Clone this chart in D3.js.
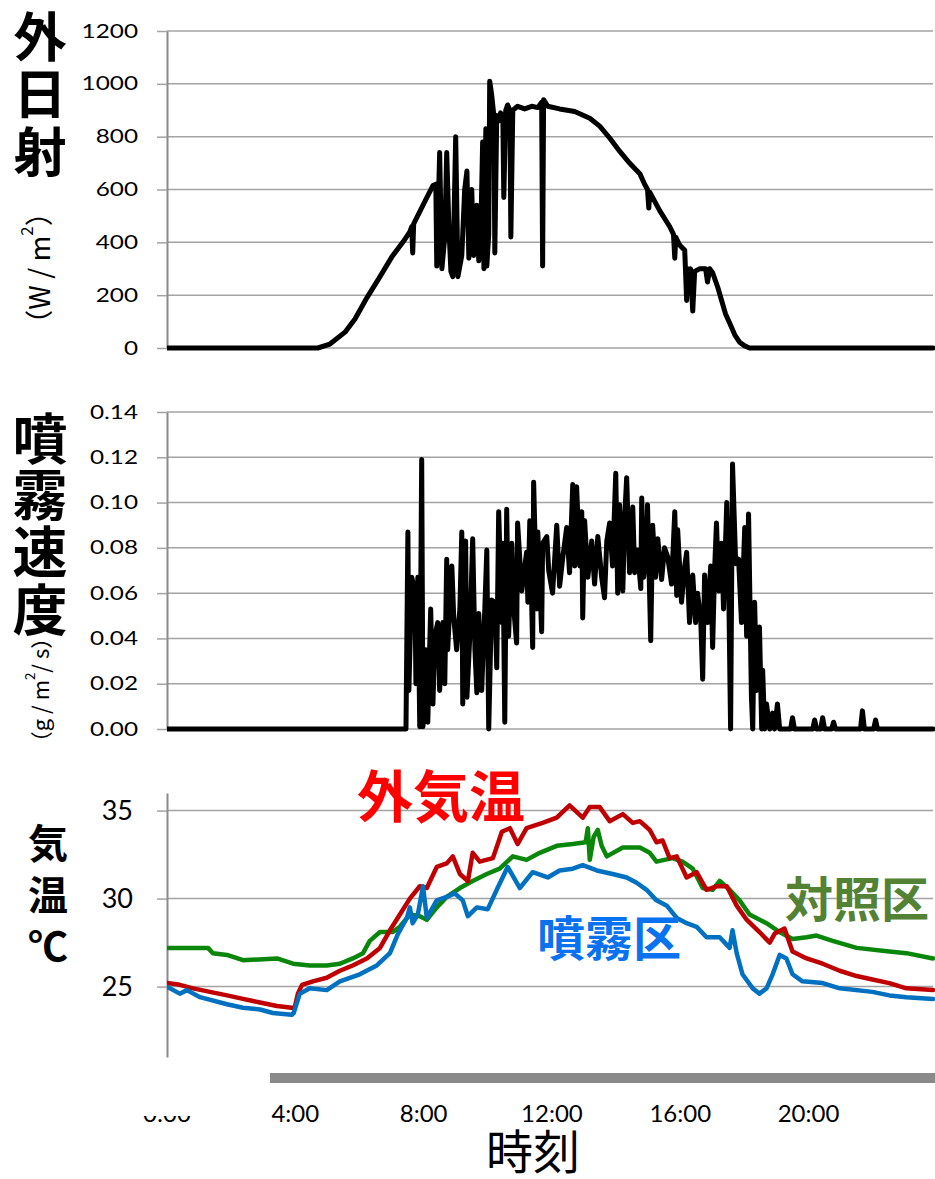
<!DOCTYPE html>
<html>
<head>
<meta charset="utf-8">
<script src="https://cdn.jsdelivr.net/npm/d3@7"></script>
<style>
  body { margin: 0; background: #fff; }
  svg { display: block; }
</style>
</head>
<body>
<div id="chart"></div>
<script>
// tick values
const hourTicks = [0, 4, 8, 12, 16, 20];
const solarTicks = [0, 200, 400, 600, 800, 1000, 1200];
const sprayTicks = [0, 0.02, 0.04, 0.06, 0.08, 0.10, 0.12, 0.14];
const tempTicks = [25, 30, 35];

// outside solar radiation, [hour, W/m2]
const solarData = [
  [0, 0], [4.70, 0], [5.08, 15], [5.55, 60], [5.86, 110], [6.23, 190], [6.64, 270], [7.01, 345],
  [7.35, 400], [7.57, 440], [7.63, 460], [7.66, 360], [7.69, 470], [8.04, 555], [8.29, 615],
  [8.38, 620], [8.41, 310], [8.50, 740], [8.57, 300], [8.66, 420], [8.72, 740], [8.79, 450],
  [8.85, 290], [8.91, 270], [9.00, 800], [9.07, 270], [9.19, 350], [9.28, 600], [9.35, 670],
  [9.41, 340], [9.50, 600], [9.56, 350], [9.66, 540], [9.72, 330], [9.78, 420], [9.84, 780],
  [9.88, 300], [9.94, 830], [9.97, 310], [10.03, 430], [10.06, 1010], [10.12, 960], [10.19, 880],
  [10.22, 360], [10.28, 880], [10.34, 860], [10.40, 890], [10.47, 870], [10.50, 570], [10.56, 900],
  [10.62, 920], [10.69, 900], [10.72, 420], [10.78, 900], [10.93, 915], [11.15, 905], [11.37, 915],
  [11.56, 910], [11.68, 930], [11.71, 310], [11.74, 940], [11.87, 915], [12.24, 905], [12.71, 895],
  [13.18, 870], [13.49, 840], [13.80, 795], [14.11, 745], [14.42, 700], [14.74, 660], [14.89, 620],
  [14.98, 600], [15.02, 530], [15.05, 590], [15.36, 520], [15.67, 460], [15.79, 430], [15.83, 340],
  [15.86, 420], [15.98, 390], [16.14, 370], [16.20, 180], [16.23, 300], [16.29, 240], [16.32, 300],
  [16.39, 140], [16.45, 290], [16.61, 300], [16.79, 300], [16.85, 250], [16.92, 300], [17.01, 285],
  [17.17, 230], [17.29, 180], [17.41, 130], [17.54, 95], [17.70, 50], [17.85, 22], [18.01, 8],
  [18.16, 0], [23.88, 0]
];

// spray rate, [hour, g/m2/s]
const sprayData = [
  [0, 0], [7.45, 0], [7.51, 0.087], [7.54, 0.017], [7.63, 0.067], [7.73, 0.061], [7.76, 0.020],
  [7.82, 0.067], [7.88, 0.001], [7.94, 0.119], [7.98, 0.001], [8.07, 0.035], [8.13, 0.003],
  [8.22, 0.053], [8.29, 0.011], [8.35, 0.041], [8.44, 0.047], [8.50, 0.017], [8.60, 0.047],
  [8.66, 0.020], [8.72, 0.075], [8.75, 0.035], [8.88, 0.072], [8.94, 0.049], [9.03, 0.035],
  [9.13, 0.053], [9.19, 0.087], [9.22, 0.011], [9.31, 0.083], [9.35, 0.014], [9.44, 0.041],
  [9.53, 0.084], [9.60, 0.035], [9.66, 0.016], [9.72, 0.051], [9.81, 0.017], [9.91, 0.054],
  [9.97, 0.079], [10.03, 0.000], [10.12, 0.057], [10.22, 0.056], [10.28, 0.027], [10.34, 0.096],
  [10.44, 0.047], [10.47, 0.082], [10.53, 0.003], [10.59, 0.097], [10.65, 0.041], [10.75, 0.082],
  [10.81, 0.053], [10.90, 0.038], [10.93, 0.091], [11.06, 0.061], [11.21, 0.078], [11.25, 0.056],
  [11.31, 0.092], [11.40, 0.036], [11.43, 0.109], [11.53, 0.053], [11.56, 0.087], [11.68, 0.043],
  [11.71, 0.082], [11.84, 0.085], [11.90, 0.070], [12.02, 0.060], [12.15, 0.090], [12.24, 0.063],
  [12.34, 0.076], [12.46, 0.089], [12.55, 0.069], [12.65, 0.108], [12.71, 0.072], [12.77, 0.107],
  [12.87, 0.072], [12.93, 0.096], [12.96, 0.049], [13.02, 0.092], [13.12, 0.067], [13.24, 0.083],
  [13.33, 0.064], [13.43, 0.085], [13.55, 0.067], [13.64, 0.058], [13.71, 0.083], [13.80, 0.091],
  [13.89, 0.072], [13.99, 0.113], [14.05, 0.060], [14.11, 0.099], [14.21, 0.061], [14.27, 0.094],
  [14.33, 0.111], [14.42, 0.069], [14.52, 0.098], [14.58, 0.069], [14.67, 0.079], [14.77, 0.062],
  [14.80, 0.102], [14.86, 0.067], [14.95, 0.079], [14.98, 0.099], [15.08, 0.039], [15.14, 0.090],
  [15.23, 0.067], [15.30, 0.084], [15.42, 0.066], [15.51, 0.080], [15.61, 0.076], [15.73, 0.064],
  [15.83, 0.096], [15.89, 0.059], [15.92, 0.088], [16.04, 0.056], [16.14, 0.072], [16.20, 0.078],
  [16.29, 0.047], [16.39, 0.068], [16.48, 0.047], [16.54, 0.060], [16.64, 0.048], [16.70, 0.022],
  [16.76, 0.068], [16.85, 0.047], [16.95, 0.072], [17.01, 0.036], [17.07, 0.070], [17.13, 0.091],
  [17.20, 0.061], [17.29, 0.082], [17.35, 0.053], [17.45, 0.100], [17.51, 0.064], [17.57, 0.000],
  [17.63, 0.117], [17.73, 0.073], [17.82, 0.075], [17.91, 0.047], [18.01, 0.089], [18.07, 0.041],
  [18.13, 0.095], [18.22, 0.014], [18.26, 0.000], [18.32, 0.056], [18.38, 0.017], [18.47, 0.045],
  [18.54, 0.000], [18.57, 0.026], [18.63, 0.000], [18.69, 0.011], [18.79, 0.000], [18.88, 0.007],
  [18.94, 0.000], [19.03, 0.011], [19.10, 0], [19.44, 0], [19.50, 0.005], [19.56, 0], [20.13, 0],
  [20.19, 0.004], [20.25, 0], [20.38, 0], [20.44, 0.005], [20.50, 0], [20.72, 0], [20.78, 0.003],
  [20.84, 0], [21.62, 0], [21.68, 0.008], [21.74, 0], [22.03, 0], [22.09, 0.004], [22.15, 0], [23.88, 0]
];

// air temperatures, [hour, degC]
const outsideTemp = [
  [0, 25.2], [0.40, 25.1], [0.81, 24.9], [1.34, 24.7], [1.87, 24.5], [2.37, 24.3], [2.90, 24.1],
  [3.43, 23.9], [3.89, 23.8], [3.98, 23.8], [4.08, 24.6], [4.21, 25.1], [4.55, 25.3], [4.98, 25.5],
  [5.39, 25.9], [5.79, 26.2], [6.23, 26.6], [6.64, 27.2], [6.95, 28.2], [7.26, 29.1], [7.57, 30.0],
  [7.88, 30.7], [8.10, 30.6], [8.41, 31.8], [8.72, 32.0], [8.91, 32.4], [9.13, 31.4], [9.38, 31.0],
  [9.53, 32.6], [9.75, 32.1], [10.16, 32.3], [10.44, 33.8], [10.69, 34.0], [10.93, 33.1], [11.21, 34.0],
  [11.71, 34.3], [12.15, 34.6], [12.55, 35.3], [12.96, 34.6], [13.18, 35.2], [13.49, 35.2], [13.80, 34.4],
  [14.21, 34.8], [14.52, 34.3], [14.74, 34.4], [15.05, 33.9], [15.26, 33.2], [15.45, 33.3], [15.67, 32.3],
  [15.89, 32.4], [16.20, 31.2], [16.51, 31.5], [16.82, 30.5], [17.13, 30.7], [17.45, 30.7], [17.76, 29.6],
  [18.07, 28.8], [18.47, 28.1], [18.79, 27.5], [18.94, 28.0], [19.25, 28.3], [19.50, 27.0], [19.94, 26.6],
  [20.44, 26.3], [20.97, 25.9], [21.50, 25.6], [21.99, 25.4], [22.52, 25.2], [23.05, 24.9], [23.88, 24.8]
];
const controlTemp = [
  [0, 27.2], [1.28, 27.2], [1.43, 26.9], [1.87, 26.8], [2.37, 26.5], [3.43, 26.6], [3.93, 26.3],
  [4.45, 26.2], [4.98, 26.2], [5.39, 26.3], [5.79, 26.6], [6.11, 26.9], [6.32, 27.6], [6.64, 28.1],
  [7.04, 28.1], [7.26, 28.4], [7.57, 29.1], [7.88, 29.0], [8.10, 28.8], [8.41, 29.5], [8.72, 30.1],
  [9.13, 30.6], [9.53, 31.0], [9.97, 31.4], [10.37, 31.7], [10.78, 32.4], [11.21, 32.2], [11.62, 32.6],
  [12.15, 33.0], [12.65, 33.1], [13.05, 33.2], [13.12, 34.0], [13.18, 32.2], [13.30, 33.5], [13.43, 33.9],
  [13.55, 33.0], [13.71, 32.4], [14.21, 32.9], [14.74, 32.9], [15.05, 32.6], [15.26, 32.1], [15.76, 32.3],
  [16.07, 32.1], [16.39, 31.7], [16.70, 30.6], [17.01, 30.5], [17.23, 31.0], [17.54, 30.5], [17.85, 29.9],
  [18.16, 29.1], [18.69, 28.6], [19.10, 28.1], [19.50, 27.7], [19.94, 27.8], [20.25, 27.9], [20.75, 27.6],
  [21.50, 27.2], [22.52, 27.0], [23.05, 26.9], [23.88, 26.6]
];
const mistTemp = [
  [0, 25.0], [0.40, 24.6], [0.62, 24.8], [1.03, 24.4], [1.87, 24.0], [2.37, 23.8], [2.90, 23.7],
  [3.30, 23.5], [3.89, 23.4], [3.95, 23.5], [4.14, 24.6], [4.45, 24.9], [4.98, 24.8], [5.39, 25.3],
  [6.01, 25.7], [6.54, 26.2], [6.95, 26.9], [7.20, 28.0], [7.48, 28.9], [7.57, 29.5], [7.66, 28.6],
  [7.82, 29.1], [7.98, 30.7], [8.10, 28.9], [8.41, 29.9], [8.72, 30.1], [8.97, 30.3], [9.22, 29.9],
  [9.38, 29.0], [9.66, 29.5], [10.00, 29.4], [10.28, 30.5], [10.62, 31.8], [11.00, 30.6], [11.40, 31.5],
  [11.87, 31.2], [12.24, 31.6], [12.65, 31.7], [12.96, 31.9], [13.40, 31.6], [13.89, 31.4], [14.33, 31.2],
  [14.64, 30.9], [14.95, 30.5], [15.26, 29.9], [15.58, 29.6], [15.89, 28.9], [16.20, 28.6], [16.51, 28.4],
  [16.82, 27.8], [17.23, 27.8], [17.54, 27.2], [17.63, 28.2], [17.76, 26.9], [17.94, 25.7], [18.26, 24.9],
  [18.47, 24.6], [18.69, 24.9], [18.88, 25.7], [19.10, 26.8], [19.31, 26.6], [19.50, 25.7], [19.81, 25.3],
  [20.44, 25.2], [20.97, 24.9], [21.99, 24.7], [22.52, 24.5], [23.05, 24.4], [23.88, 24.3]
];

const W = 935, H = 1179;
const plotLeft = 167, plotRight = 933;
const gridColor = '#a3a3a3';
const axisColor = '#8a8a8a';
const numFont = 'Lato, "Open Sans", sans-serif';
const jpFont = '"Noto Sans CJK JP", "Noto Sans CJK SC", sans-serif';

const svg = d3.select('#chart')
  .append('svg')
  .attr('width', W)
  .attr('height', H);

const x = d3.scaleLinear().domain([0, 23.88]).range([plotLeft, plotRight]);

svg.append('clipPath').attr('id', 'plotClip')
  .append('rect')
  .attr('x', plotLeft).attr('y', 0)
  .attr('width', plotRight - plotLeft + 2).attr('height', H);

// one panel: gridlines, left axis, lines
function drawPanel(cfg) {
  let y = d3.scaleLinear().domain(cfg.domain).range(cfg.range);
  let g = svg.append('g');

  g.append('g')
    .selectAll('line')
    .data(cfg.ticks)
    .enter()
    .append('line')
    .attr('x1', plotLeft).attr('x2', plotRight)
    .attr('y1', d => y(d)).attr('y2', d => y(d))
    .attr('stroke', gridColor)
    .attr('stroke-width', 1.5);

  let axis = d3.axisLeft(y)
    .tickValues(cfg.ticks)
    .tickSizeInner(10)
    .tickSizeOuter(0)
    .tickFormat(cfg.format);

  let ax = g.append('g')
    .attr('transform', `translate(${plotLeft},0)`)
    .call(axis);
  ax.select('.domain').attr('stroke', axisColor).attr('stroke-width', 2);
  ax.selectAll('.tick line').attr('stroke', gridColor).attr('stroke-width', 1.5);
  ax.selectAll('.tick text')
    .attr('x', null)
    .attr('fill', '#000')
    .style('font-family', numFont)
    .style('font-size', cfg.fontSize + 'px')
    .attr('transform', `translate(${cfg.labelX},0) scale(${cfg.stretch},1)`);

  let line = d3.line()
    .x(d => x(d[0]))
    .y(d => y(d[1]));

  g.append('g')
    .attr('clip-path', 'url(#plotClip)')
    .selectAll('path')
    .data(cfg.series)
    .enter()
    .append('path')
    .attr('d', d => line(d.values))
    .attr('fill', 'none')
    .attr('stroke', d => d.color)
    .attr('stroke-width', d => d.width)
    .attr('stroke-linejoin', 'round')
    .attr('stroke-linecap', 'round');
  return y;
}

drawPanel({
  domain: [0, 1200], range: [348, 31], ticks: solarTicks,
  format: d3.format('d'), fontSize: 19, labelX: -29, stretch: 1.28,
  series: [{ values: solarData, color: '#000', width: 5 }]
});

drawPanel({
  domain: [0, 0.14], range: [729, 412], ticks: sprayTicks,
  format: d3.format('.2f'), fontSize: 19, labelX: -29, stretch: 1.28,
  series: [{ values: sprayData, color: '#000', width: 5 }]
});

drawPanel({
  domain: [21, 36], range: [1057, 793], ticks: tempTicks,
  format: d3.format('d'), fontSize: 27, labelX: -34, stretch: 1,
  series: [
    { values: controlTemp, color: '#0a860a', width: 4.5 },
    { values: outsideTemp, color: '#c00000', width: 4.5 },
    { values: mistTemp, color: '#0070c0', width: 4.5 }
  ]
});

// scroll-bar like band under the chart
svg.append('rect')
  .attr('x', 270).attr('y', 1073)
  .attr('width', W - 270).attr('height', 10)
  .attr('fill', '#8a8a8a');

// time labels; 0:00 is mostly hidden
svg.append('clipPath').attr('id', 'zeroClip')
  .append('rect')
  .attr('x', 120).attr('y', 1116).attr('width', 100).attr('height', 6);

svg.append('g')
  .selectAll('text')
  .data(hourTicks)
  .enter()
  .append('text')
  .attr('x', d => x(d))
  .attr('y', 1122)
  .attr('text-anchor', 'middle')
  .attr('clip-path', d => d === 0 ? 'url(#zeroClip)' : null)
  .style('font-family', numFont)
  .style('font-size', '24px')
  .text(d => d + ':00');

svg.append('text')
  .attr('x', 533).attr('y', 1169)
  .attr('text-anchor', 'middle')
  .style('font-family', jpFont)
  .style('font-size', '47px')
  .text('時刻');

// vertical titles, one character per line
function stackTitle(chars, xPos, ys, size, weight) {
  svg.append('g')
    .selectAll('text')
    .data(chars)
    .enter()
    .append('text')
    .attr('x', xPos)
    .attr('y', (d, i) => ys[i])
    .attr('text-anchor', 'middle')
    .attr('dominant-baseline', 'central')
    .style('font-family', jpFont)
    .style('font-size', size + 'px')
    .style('font-weight', weight)
    .text(d => d);
}

stackTitle(['外', '日', '射'], 40, [34, 91, 149], 53, 'bold');
stackTitle(['噴', '霧', '速', '度'], 40, [435, 491, 548, 606], 55, 'bold');
stackTitle(['気', '温', '℃'], 48, [841, 893, 944], 40, 'bold');

function unitLabel(parts, xPos, yPos, size) {
  let t = svg.append('text')
    .attr('transform', `translate(${xPos},${yPos}) rotate(-90)`)
    .attr('text-anchor', 'middle')
    .attr('dominant-baseline', 'central')
    .style('font-family', jpFont)
    .style('font-size', size + 'px');
  parts.forEach(p => {
    let s = t.append('tspan').text(p.t);
    if (p.sup) s.attr('baseline-shift', 'super').style('font-size', (size * 0.6) + 'px');
  });
}

unitLabel([{ t: '（W / m' }, { t: '2', sup: true }, { t: '）' }], 38, 268, 28);
unitLabel([{ t: '（g / m' }, { t: '2', sup: true }, { t: '/ s）' }], 39, 690, 22);

// series labels
const seriesLabels = [
  { text: '外気温', x: 441, y: 792, size: 56, color: '#ff0000' },
  { text: '対照区', x: 857, y: 896, size: 48, color: '#548235' },
  { text: '噴霧区', x: 609, y: 935, size: 48, color: '#0a72ee' }
];

svg.append('g')
  .selectAll('text')
  .data(seriesLabels)
  .enter()
  .append('text')
  .attr('x', d => d.x)
  .attr('y', d => d.y)
  .attr('text-anchor', 'middle')
  .attr('dominant-baseline', 'central')
  .attr('fill', d => d.color)
  .style('font-family', jpFont)
  .style('font-size', d => d.size + 'px')
  .style('font-weight', 'bold')
  .text(d => d.text);
</script>
</body>
</html>
